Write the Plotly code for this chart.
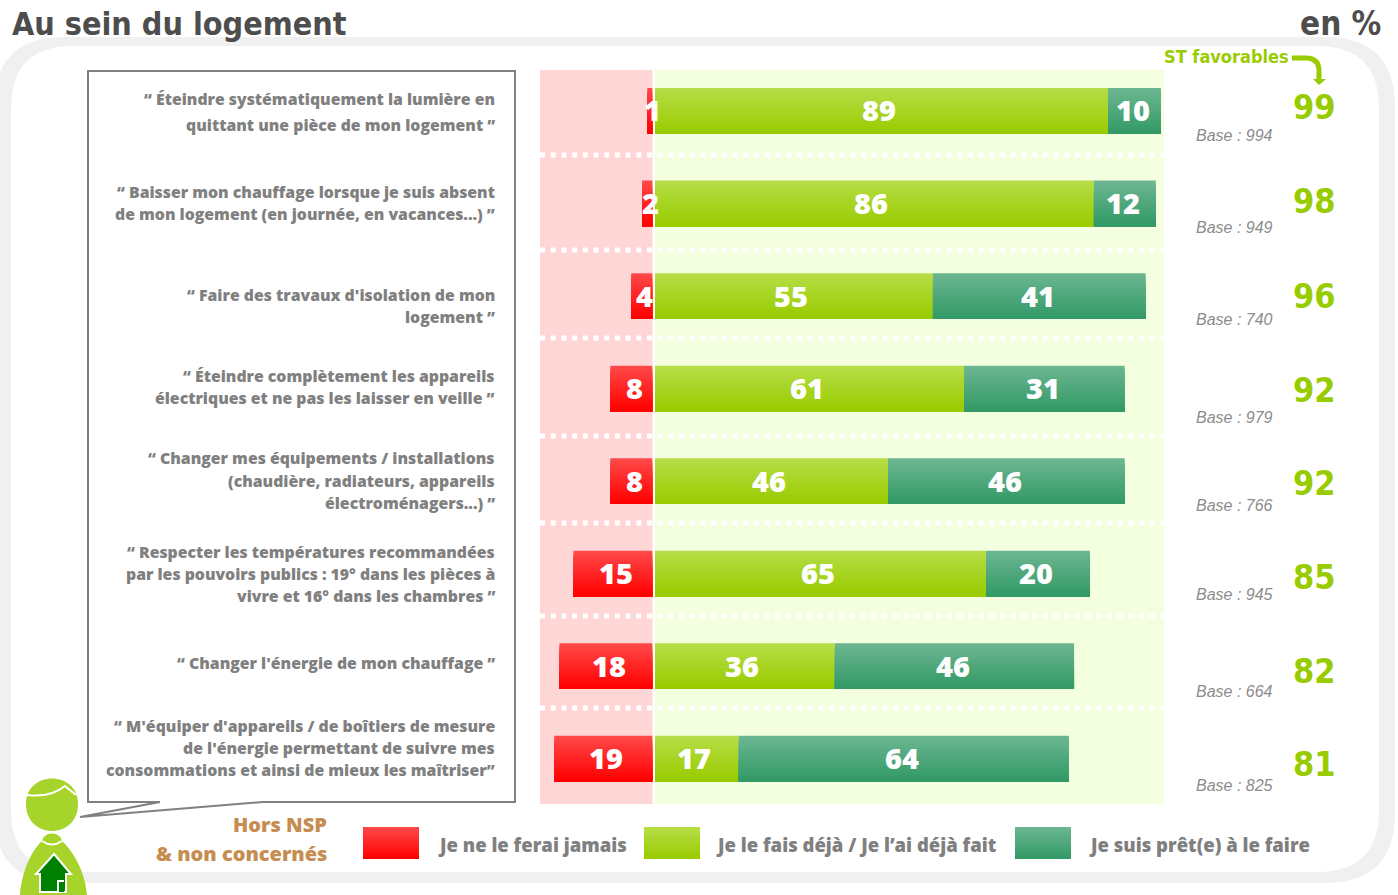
import plotly.graph_objects as go

W, H = 1398, 895
statements = [
    ["“ Éteindre systématiquement la lumière en", "quittant une pièce de mon logement ”"],
    ["“ Baisser mon chauffage lorsque je suis absent", "de mon logement (en journée, en vacances...) ”"],
    ["“ Faire des travaux d'isolation de mon", "logement ”"],
    ["“ Éteindre complètement les appareils", "électriques et ne pas les laisser en veille ”"],
    ["“ Changer mes équipements / installations", "(chaudière, radiateurs, appareils", "électroménagers...) ”"],
    ["“ Respecter les températures recommandées", "par les pouvoirs publics : 19° dans les pièces à", "vivre et 16° dans les chambres ”"],
    ["“ Changer l'énergie de mon chauffage ”"],
    ["“ M'équiper d'appareils / de boîtiers de mesure", "de l'énergie permettant de suivre mes", "consommations et ainsi de mieux les maîtriser”"],
]
line_y = [[99, 125], [192, 214], [295, 317], [376, 398], [458, 481, 503], [552, 574, 596], [663], [726, 748, 770]]
jamais = [1.0, 2.0, 4.1, 8.1, 8.1, 15.2, 17.9, 18.9]
deja = [88.65, 85.9, 54.4, 60.5, 45.6, 64.8, 35.2, 16.4]
pret = [10.35, 12.1, 41.6, 31.4, 46.3, 20.3, 46.8, 64.6]
jamais_labels = [1, 2, 4, 8, 8, 15, 18, 19]
deja_labels = [89, 86, 55, 61, 46, 65, 36, 17]
pret_labels = [10, 12, 41, 31, 46, 20, 46, 64]
favorables = [99, 98, 96, 92, 92, 85, 82, 81]
bases = [994, 949, 740, 979, 766, 945, 664, 825]
fav_y = [107, 201, 296, 390, 483, 577, 671, 764]
base_y = [135, 228, 319, 417, 505, 594, 691, 785]
sep_y = [155, 250, 338, 436, 523, 616, 708]
legend_labels = ["Je ne le ferai jamais", "Je le fais déjà / Je l’ai déjà fait", "Je suis prêt(e) à le faire"]

RED = ((255, 72, 72), (255, 0, 0))
GREEN = ((182, 221, 70), (153, 204, 0))
TEAL = ((107, 182, 145), (51, 153, 102))
GREY, DARK, LIME, BROWN = "#808080", "#4d4d4d", "#99cc00", "#c68c50"
LABEL_FONT = "Open Sans"
TITLE_FONT = "DejaVu Sans Condensed"
N = 16


def px(x):
    return x / W


def py(y):
    return 1 - y / H


def mix(c, t):
    a, b = c
    return "rgb(%d,%d,%d)" % tuple(round(a[i] + (b[i] - a[i]) * t) for i in range(3))


cats = [" ".join(s) for s in statements]
fig = go.Figure()
bar_w = 0.495


def bands(vals, base, colors, axis, name):
    # every band runs down to the bar's lower edge and is overpainted by the next
    for k in range(N):
        fig.add_trace(go.Bar(
            y=cats, x=vals, base=base, orientation="h", xaxis=axis, yaxis="y", name=name,
            width=bar_w * (N - k) / N, offset=-bar_w / 2 + k * bar_w / N,
            marker=dict(color=mix(colors, k / (N - 1)), line=dict(width=0)),
            hoverinfo="skip", showlegend=False))


bands(jamais, [0] * 8, RED, "x", legend_labels[0])
bands(deja, [0] * 8, GREEN, "x2", legend_labels[1])
bands(pret, deja, TEAL, "x2", legend_labels[2])

shapes = []


def rrect(x0, y0, x1, y1, r):
    return (f"M{px(x0+r)},{py(y0)} L{px(x1-r)},{py(y0)} Q{px(x1)},{py(y0)} {px(x1)},{py(y0+r)} "
            f"L{px(x1)},{py(y1-r)} Q{px(x1)},{py(y1)} {px(x1-r)},{py(y1)} L{px(x0+r)},{py(y1)} "
            f"Q{px(x0)},{py(y1)} {px(x0)},{py(y1-r)} L{px(x0)},{py(y0+r)} Q{px(x0)},{py(y0)} {px(x0+r)},{py(y0)} Z")


def poly(points):
    return "M" + " L".join(f"{px(x)},{py(y)}" for x, y in points) + " Z"


def pshape(path, fill=None, line=None, lw=0, layer="below"):
    shapes.append(dict(type="path", xref="paper", yref="paper", path=path, fillcolor=fill or "rgba(0,0,0,0)",
                       line=dict(color=line or "rgba(0,0,0,0)", width=lw), layer=layer))


def rect(x0, y0, x1, y1, fill, layer="below"):
    shapes.append(dict(type="rect", xref="paper", yref="paper", x0=px(x0), x1=px(x1), y0=py(y0), y1=py(y1),
                       fillcolor=fill, line=dict(width=0), layer=layer))


# Frame
pshape(rrect(-6, 37, 1395, 883, 70), fill="#f0f0f0")
pshape(rrect(11, 46, 1379, 872, 62), fill="#ffffff")
# Panels
rect(540, 70, 652.5, 804, "#ffd6d6")
rect(655, 70, 1164, 804, "#f4ffdf")
# Separators
for y in sep_y:
    shapes.append(dict(type="line", xref="paper", yref="paper", x0=px(540), x1=px(1164), y0=py(y), y1=py(y),
                       line=dict(color="#ffffff", width=5, dash="5px,5.7px"), layer="below"))
# Speech bubble
pshape(poly([(88, 71), (515, 71), (515, 802), (263, 802), (80, 817), (160, 802), (88, 802)]),
       fill="#ffffff", line=GREY, lw=2)
# Legend swatches
for x0, c in zip((363, 644, 1015), (RED, GREEN, TEAL)):
    for k in range(N):
        rect(x0, 827 + k * 32 / N, x0 + 56, 859, mix(c, k / (N - 1)))
# Person
head = (f"M{px(26)},{py(804)} C{px(26)},{py(770)} {px(78)},{py(770)} {px(78)},{py(804)} "
        f"C{px(78)},{py(840)} {px(26)},{py(840)} {px(26)},{py(804)} Z")
pshape(head, fill="#a6d42a", layer="above")
pshape(f"M{px(27)},{py(795)} Q{px(50)},{py(798)} {px(65)},{py(786)} L{px(76)},{py(795)}",
       line="#ffffff", lw=2, layer="above")
body = (f"M{px(20)},{py(895)} C{px(22)},{py(870)} {px(32)},{py(850)} {px(42)},{py(841)} "
        f"C{px(44)},{py(831)} {px(60)},{py(831)} {px(62)},{py(841)} C{px(72)},{py(850)} {px(85)},{py(870)} {px(87)},{py(895)} Z")
pshape(body, fill="#a6d42a", layer="above")
pshape(f"M{px(42)},{py(841)} Q{px(52)},{py(848)} {px(62)},{py(841)}", line="#ffffff", lw=2, layer="above")
pshape(poly([(54, 854), (71, 874), (66, 874), (66, 892), (40, 892), (40, 874), (36, 874)]),
       fill="#008000", line="#ffffff", lw=2, layer="above")
rect(57, 880, 64, 892, "#ffffff", layer="above")
rect(59, 882, 64, 892, "#008000", layer="above")
# Arrow
pshape(f"M{px(1292)},{py(58)} L{px(1306)},{py(58)} Q{px(1319)},{py(58)} {px(1319)},{py(71)} L{px(1319)},{py(80)}",
       line=LIME, lw=5)
pshape(poly([(1313, 79), (1326, 79), (1319, 85)]), fill=LIME)

ann = []


def text(x, y, s, size, color, anchor="left", family=LABEL_FONT, weight=800, italic=False):
    ann.append(dict(xref="paper", yref="paper", x=px(x), y=py(y), text=s, showarrow=False,
                    xanchor=anchor, yanchor="middle",
                    font=dict(family=family, size=size, color=color, weight=weight,
                              style="italic" if italic else "normal")))


text(10, 24, "Au sein du logement", 32, DARK, family=TITLE_FONT, weight=700)
text(1383, 24, "en %", 33, DARK, "right", family=TITLE_FONT, weight=700)
text(1162, 57, "ST favorables", 18, LIME, family=TITLE_FONT, weight=700)
text(329, 824, "Hors NSP", 20, BROWN, "right")
text(329, 853, "&amp; non concernés", 20, BROWN, "right")
for x, s in zip((436, 714, 1087), legend_labels):
    text(x, 844, s, 18.5, GREY)
for lines, ys in zip(statements, line_y):
    for s, y in zip(lines, ys):
        text(497, y, s, 15.8, GREY, "right")
for v, y in zip(favorables, fav_y):
    text(1291, y, str(v), 34, LIME, family=TITLE_FONT, weight=700)
for v, y in zip(bases, base_y):
    text(1194, y, f"Base : {v}", 16, "#8c8c8c", family="Liberation Sans", weight=400, italic=True)


def label(vals, base, shown, axis, shift):
    for i, (v, b, t) in enumerate(zip(vals, base, shown)):
        ann.append(dict(xref=axis, yref="y", x=b + v / 2, y=cats[i], xshift=shift, yshift=1, text=str(t),
                        showarrow=False, xanchor="center", yanchor="middle",
                        font=dict(family=LABEL_FONT, size=29, color="#ffffff", weight=800)))


label(jamais, [0] * 8, jamais_labels, "x", 3)
label(deja, [0] * 8, deja_labels, "x2", -3)
label(pret, deja, pret_labels, "x2", -1.5)

fig.update_layout(
    width=W, height=H, autosize=False, margin=dict(l=0, r=0, t=0, b=0),
    paper_bgcolor="#ffffff", plot_bgcolor="rgba(0,0,0,0)", barmode="overlay", showlegend=False,
    shapes=shapes, annotations=ann,
    xaxis=dict(domain=[px(540), px(652.5)], range=[112.5 / 5.2, 0], visible=False, fixedrange=True),
    xaxis2=dict(domain=[px(655), px(1164)], range=[0, 509 / 5.11], visible=False, fixedrange=True, anchor="y"),
    yaxis=dict(domain=[py(804), py(70)], type="category", categoryorder="array", categoryarray=cats,
               range=[7.49, -0.443], visible=False, fixedrange=True),
)
fig.write_html("out.html", config=dict(displayModeBar=False),
               post_script="document.body.style.margin='0';document.body.style.overflow='hidden';")
